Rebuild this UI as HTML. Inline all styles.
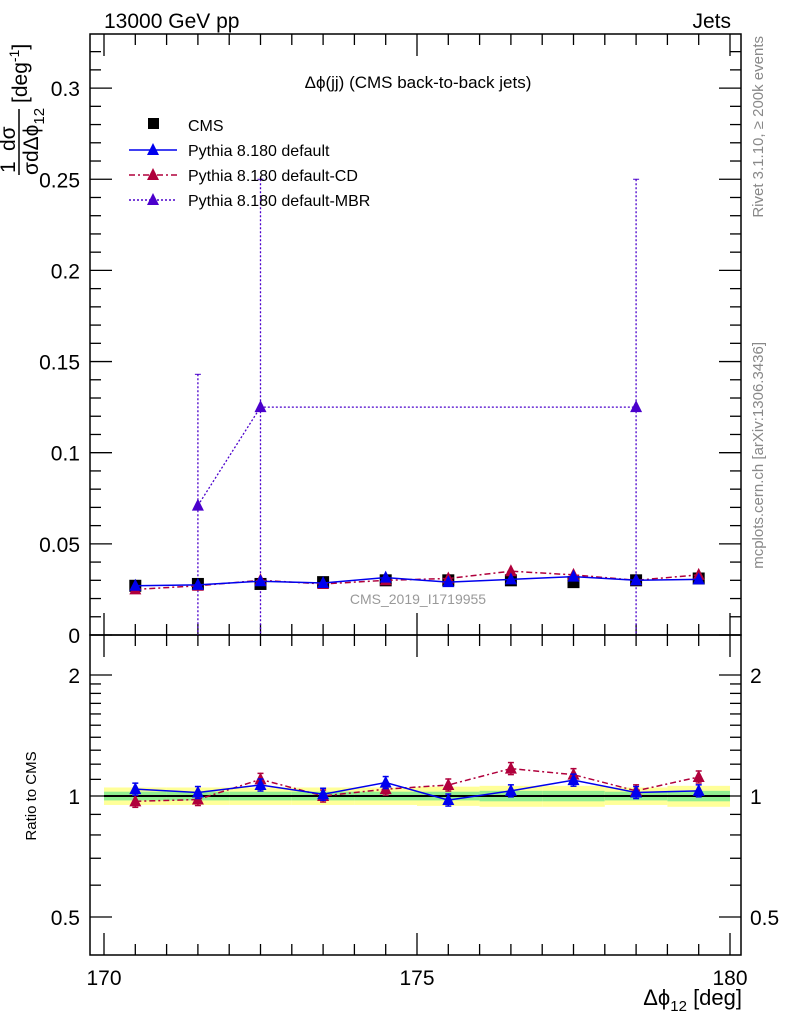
<!DOCTYPE html>
<html><head><meta charset="utf-8"><style>
body{margin:0;background:#fff}
svg{display:block;font-family:"Liberation Sans",sans-serif}
</style></head><body>
<svg id="c" width="786" height="1024" viewBox="0 0 786 1024"></svg>
<script>
const xCenters=[170.5,171.5,172.5,173.5,174.5,175.5,176.5,177.5,178.5,179.5];
const cmsVals=[0.027,0.028,0.028,0.029,0.030,0.030,0.030,0.029,0.030,0.031];
const defVals=[0.027,0.0275,0.0295,0.0285,0.0315,0.029,0.0305,0.032,0.030,0.0305];
const cdVals=[0.025,0.027,0.030,0.028,0.030,0.031,0.035,0.033,0.030,0.033];
const mbrX=[171.5,172.5,178.5];
const mbrVals=[0.071,0.125,0.125];
const mbrUp=[0.143,0.25,0.25];
const defRatio=[1.04,1.02,1.065,1.01,1.08,0.977,1.03,1.095,1.02,1.03];
const cdRatio=[0.97,0.98,1.10,1.0,1.04,1.065,1.17,1.13,1.03,1.115];
const bandYellow=[0.05,0.05,0.05,0.05,0.05,0.055,0.06,0.06,0.05,0.06];
const bandGreen=[0.025,0.025,0.025,0.025,0.025,0.025,0.03,0.03,0.025,0.03];
const xTicks=[170,175,180];
const yTicks=[0,0.05,0.1,0.15,0.2,0.25,0.3];
const rTicks=[0.5,1,2];

const NS='http://www.w3.org/2000/svg';
const svg=document.getElementById('c');
const L=90,R=741,T=34,MB=635,RB=955;
const X=v=>104+(v-170)*62.6;
const Y=v=>635-v*1823;
const RY=r=>796-Math.log2(r)*121;
function el(tag,attrs,parent){const e=document.createElementNS(NS,tag);for(const k in attrs)e.setAttribute(k,attrs[k]);(parent||svg).appendChild(e);return e;}
function txt(x,y,s,attrs,parent){const t=el('text',Object.assign({x:x,y:y,'font-size':20},attrs||{}),parent);t.textContent=s;return t;}
function tri(x,y,c,g){return el('polygon',{points:`${x},${y-7} ${x-6},${y+5} ${x+6},${y+5}`,fill:c},g);}

// ratio bands
const bands=el('g',{});


xCenters.forEach((c,i)=>{
  el('rect',{x:X(c-0.5),y:RY(1+bandYellow[i]),width:62.6,height:RY(1-bandYellow[i])-RY(1+bandYellow[i]),fill:'#ffff99'},bands);
  el('rect',{x:X(c-0.5),y:RY(1+bandGreen[i]),width:62.6,height:RY(1-bandGreen[i])-RY(1+bandGreen[i]),fill:'#90ee90'},bands);
});
el('line',{x1:X(170),x2:X(180),y1:RY(1),y2:RY(1),stroke:'#000','stroke-width':2});

// frames
const fr=el('g',{fill:'none',stroke:'#000','stroke-width':1.5});


el('rect',{x:L,y:T,width:R-L,height:MB-T},fr);
el('rect',{x:L,y:MB,width:R-L,height:RB-MB},fr);

// x ticks
const ax=el('g',{stroke:'#000','stroke-width':1.3});
for(let v=170;v<=180.01;v+=0.5){
  const major=Math.abs(v-Math.round(v/5)*5)<1e-6;
  const h=major?22:11, x=X(v);
  el('line',{x1:x,x2:x,y1:MB,y2:MB-h},ax);el('line',{x1:x,x2:x,y1:T,y2:T+h},ax);
  el('line',{x1:x,x2:x,y1:RB,y2:RB-h},ax);el('line',{x1:x,x2:x,y1:MB,y2:MB+h},ax);
}
xTicks.forEach(v=>{const t=txt(X(v),985,String(v),{'text-anchor':'middle','font-size':21});});
for(let i=0;i<=33;i++){const v=i*0.01,y=Y(v);if(y<T)break;const major=i%5==0,h=major?22:11;
  el('line',{x1:L,x2:L+h,y1:y,y2:y},ax);el('line',{x1:R,x2:R-h,y1:y,y2:y},ax);}
yTicks.forEach(v=>{const t=txt(80,Y(v)+8,String(v),{'text-anchor':'end','font-size':21});});
[0.5,0.6,0.7,0.8,0.9,1,1.1,1.2,1.3,1.4,1.5,1.6,1.7,1.8,1.9,2].forEach(v=>{const y=RY(v),major=rTicks.includes(v),h=major?22:11;
  el('line',{x1:L,x2:L+h,y1:y,y2:y},ax);el('line',{x1:R,x2:R-h,y1:y,y2:y},ax);});
rTicks.forEach(v=>{const a=txt(80,RY(v)+8,String(v),{'text-anchor':'end','font-size':21});
  const b=txt(750,RY(v)+8,String(v),{'font-size':21});});

// MBR series
const mbr=el('g',{});


el('polyline',{points:mbrX.map((c,i)=>X(c)+','+Y(mbrVals[i])).join(' '),fill:'none',stroke:'#4b00cc','stroke-width':1.3,'stroke-dasharray':'2,2'},mbr);
mbrX.forEach((c,i)=>{el('line',{x1:X(c),x2:X(c),y1:Y(mbrUp[i]),y2:MB,stroke:'#4b00cc','stroke-width':1.3,'stroke-dasharray':'2,2'},mbr);
  el('line',{x1:X(c)-3,x2:X(c)+3,y1:Y(mbrUp[i]),y2:Y(mbrUp[i]),stroke:'#4b00cc'},mbr);tri(X(c),Y(mbrVals[i]),'#4b00cc',mbr);});

const cms=el('g',{});


xCenters.forEach((c,i)=>el('rect',{x:X(c)-6,y:Y(cmsVals[i])-6,width:12,height:12,fill:'#000'},cms));
const cd=el('g',{});


el('polyline',{points:xCenters.map((c,i)=>X(c)+','+Y(cdVals[i])).join(' '),fill:'none',stroke:'#b0003c','stroke-width':1.5,'stroke-dasharray':'6,3,2,3'},cd);
xCenters.forEach((c,i)=>tri(X(c),Y(cdVals[i]),'#b0003c',cd));
const df=el('g',{});


el('polyline',{points:xCenters.map((c,i)=>X(c)+','+Y(defVals[i])).join(' '),fill:'none',stroke:'#0000ee','stroke-width':1.5},df);
xCenters.forEach((c,i)=>tri(X(c),Y(defVals[i]),'#0000ee',df));

function ratioSeries(vals,col,dash,name){
  const g=el('g',{});
  
  
  el('polyline',{points:xCenters.map((c,i)=>X(c)+','+RY(vals[i])).join(' '),fill:'none',stroke:col,'stroke-width':1.5,'stroke-dasharray':dash},g);
  xCenters.forEach((c,i)=>{const x=X(c),y1=RY(vals[i]*1.035),y2=RY(vals[i]/1.035);
    el('line',{x1:x,x2:x,y1:y1,y2:y2,stroke:col,'stroke-width':1.5},g);
    el('line',{x1:x-3,x2:x+3,y1:y1,y2:y1,stroke:col,'stroke-width':1.5},g);
    el('line',{x1:x-3,x2:x+3,y1:y2,y2:y2,stroke:col,'stroke-width':1.5},g);
    tri(x,RY(vals[i]),col,g);});
}
ratioSeries(cdRatio,'#b0003c','6,3,2,3','ratio-default-cd');
ratioSeries(defRatio,'#0000ee','none','ratio-default');

let t;
t=txt(104,28,'13000 GeV pp',{'font-size':21});
t=txt(731,28,'Jets',{'font-size':21,'text-anchor':'end'});
t=txt(418,88,'Δϕ(jj) (CMS back-to-back jets)',{'font-size':17,'text-anchor':'middle'});
t=txt(418,604,'CMS_2019_I1719955',{'font-size':14,'text-anchor':'middle',fill:'#999'});

// x axis title
const xt=el('text',{x:742,y:1005,'font-size':22,'text-anchor':'end'});


xt.innerHTML='Δϕ<tspan dy="6" font-size="15">12</tspan><tspan dy="-6"> [deg]</tspan>';

t=txt(0,0,'Ratio to CMS',{'font-size':15,'text-anchor':'middle',transform:'translate(36,796) rotate(-90)'});

// y axis title as fraction
const yt=el('g',{transform:'translate(30,175) rotate(-90)'});


txt(2,-15,'1',{'font-size':21},yt);
txt(24,-15,'dσ',{'font-size':21},yt);
el('line',{x1:0,x2:66,y1:-11,y2:-11,stroke:'#000','stroke-width':1.5},yt);
const den=txt(0,8,'σdΔϕ',{'font-size':21},yt);
den.innerHTML='σdΔϕ<tspan dy="6" font-size="15">12</tspan>';
const unit=txt(72,-3,'',{'font-size':21},yt);
unit.innerHTML='[deg<tspan dy="-8" font-size="14">-1</tspan><tspan dy="8">]</tspan>';

t=txt(0,0,'Rivet 3.1.10, ≥ 200k events',{'font-size':15,fill:'#888','text-anchor':'end',transform:'translate(763,36) rotate(-90)'});
t=txt(0,0,'mcplots.cern.ch [arXiv:1306.3436]',{'font-size':15,fill:'#888','text-anchor':'end',transform:'translate(763,342) rotate(-90)'});

const lg=el('g',{});


el('rect',{x:148,y:118,width:11,height:11,fill:'#000'},lg);txt(188,131,'CMS',{'font-size':16},lg);
[['Pythia 8.180 default','#0000ee','none',156],['Pythia 8.180 default-CD','#b0003c','6,3,2,3',181],['Pythia 8.180 default-MBR','#4b00cc','2,2',206]].forEach(e=>{
  const g=el('g',{},lg);
  
  
  el('line',{x1:129,x2:177,y1:e[3]-6,y2:e[3]-6,stroke:e[1],'stroke-width':1.5,'stroke-dasharray':e[2]},g);
  tri(153,e[3]-6,e[1],g);
  txt(188,e[3],e[0],{'font-size':16},g);
});
</script>
</body></html>
